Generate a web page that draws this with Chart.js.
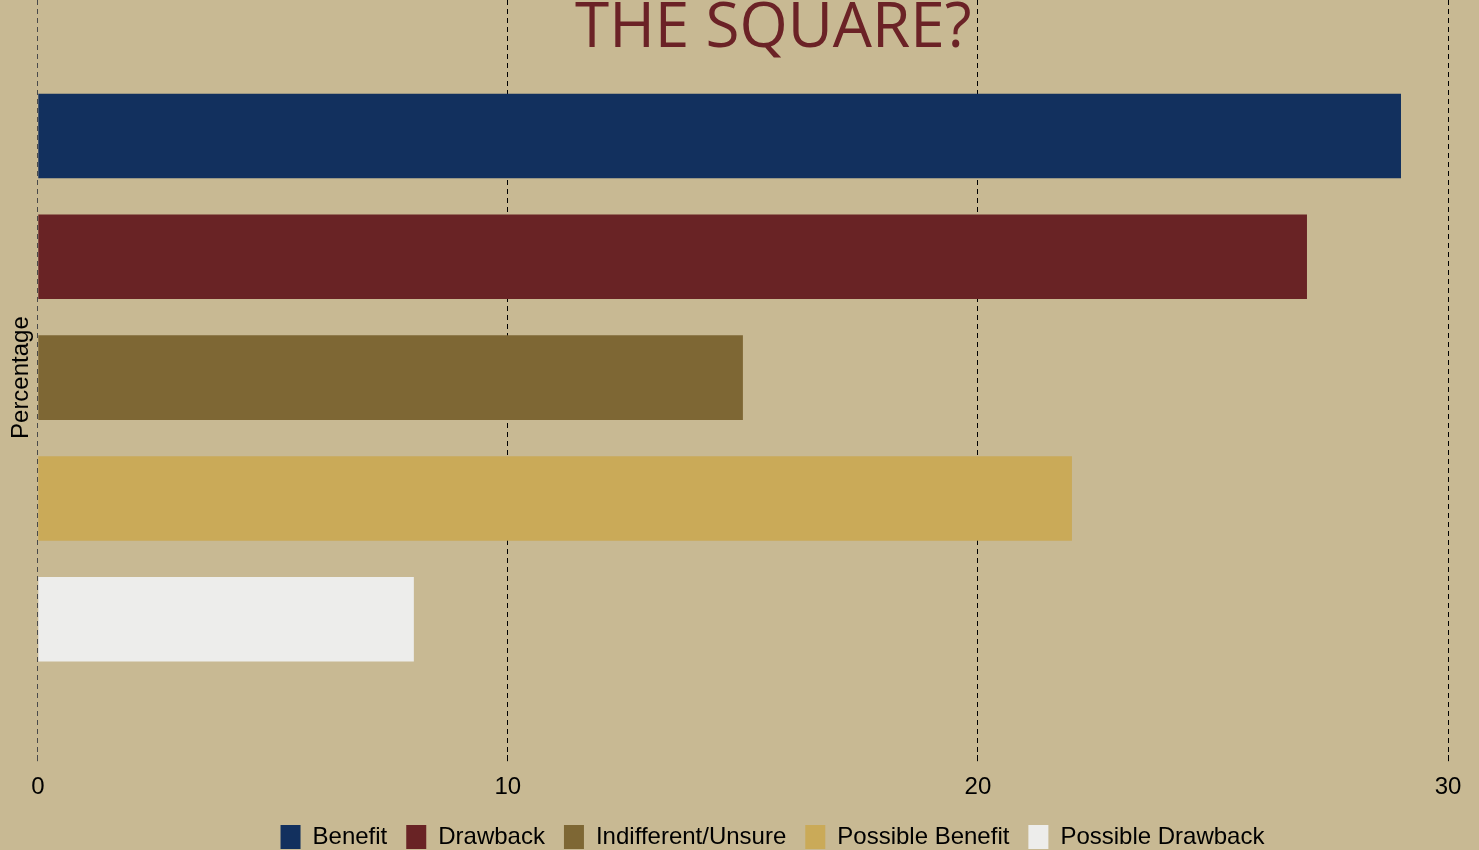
<!DOCTYPE html>
<html>
<head>
<meta charset="utf-8">
<script src="https://cdn.jsdelivr.net/npm/chart.js@4.4.1/dist/chart.umd.min.js"></script>
<style>
  html, body { margin: 0; padding: 0; background: #c8b993; overflow: hidden; }
  #wrap { position: relative; width: 1479px; height: 859px; }
  #title { position: absolute; left: 575px; top: -19px; font-family: "Open Sans", sans-serif; font-size: 62px; color: #6b2226; white-space: nowrap; z-index: 2; pointer-events: none; }
</style>
</head>
<body>
<div id="wrap">
  <div id="title">THE SQUARE?</div>
  <canvas id="c"></canvas>
</div>
<script>
const categories = [''];
const seriesNames = ['Benefit', 'Drawback', 'Indifferent/Unsure', 'Possible Benefit', 'Possible Drawback'];
const seriesValues = [29, 27, 15, 22, 8];
const seriesColors = ['#12305e', '#692325', '#7e6734', '#caaa58', '#ededeb'];
const xTicks = [0, 10, 20, 30];

const datasets = seriesNames.map((name, i) => ({
  label: name,
  data: [seriesValues[i]],
  backgroundColor: seriesColors[i],
  borderWidth: 0,
  barPercentage: 0.7,
  categoryPercentage: 0.8
}));

Chart.defaults.font.family = '"Liberation Sans", Arial, sans-serif';
Chart.defaults.color = '#000';

const legendShift = {
  id: 'legendShift',
  afterLayout(chart) {
    if (chart.legend) { chart.legend.left += 45; chart.legend.right += 45; }
  }
};

new Chart(document.getElementById('c'), {
  type: 'bar',
  data: { labels: categories, datasets },
  options: {
    indexAxis: 'y',
    responsive: true,
    maintainAspectRatio: false,
    animation: false,
    layout: { padding: { top: 0, right: 31, left: 7, bottom: 0 } },
    plugins: {
      legend: {
        position: 'bottom',
        labels: { font: { size: 24 }, boxWidth: 20, boxHeight: 24, padding: 19 }
      },
      title: { display: false },
      tooltip: { enabled: false }
    },
    scales: {
      x: {
        min: 0, max: 30,
        afterBuildTicks: (s) => { s.ticks = xTicks.map(v => ({ value: v })); },
        afterFit: (s) => { s.height -= 8; },
        grid: {
          color: (ctx) => (ctx.tick && ctx.tick.value === 0 ? '#4a4a4a' : '#000'),
          lineWidth: 1, drawTicks: true, tickLength: 6
        },
        border: { display: false, dash: [5, 4] },
        ticks: { font: { size: 24 }, padding: 12 }
      },
      y: {
        grid: { display: false, drawTicks: false },
        border: { display: false },
        ticks: { display: false },
        title: { display: true, text: 'Percentage', font: { size: 24 }, padding: { top: 0, bottom: 2 } }
      }
    }
  },
  plugins: [legendShift]
});
</script>
</body>
</html>
